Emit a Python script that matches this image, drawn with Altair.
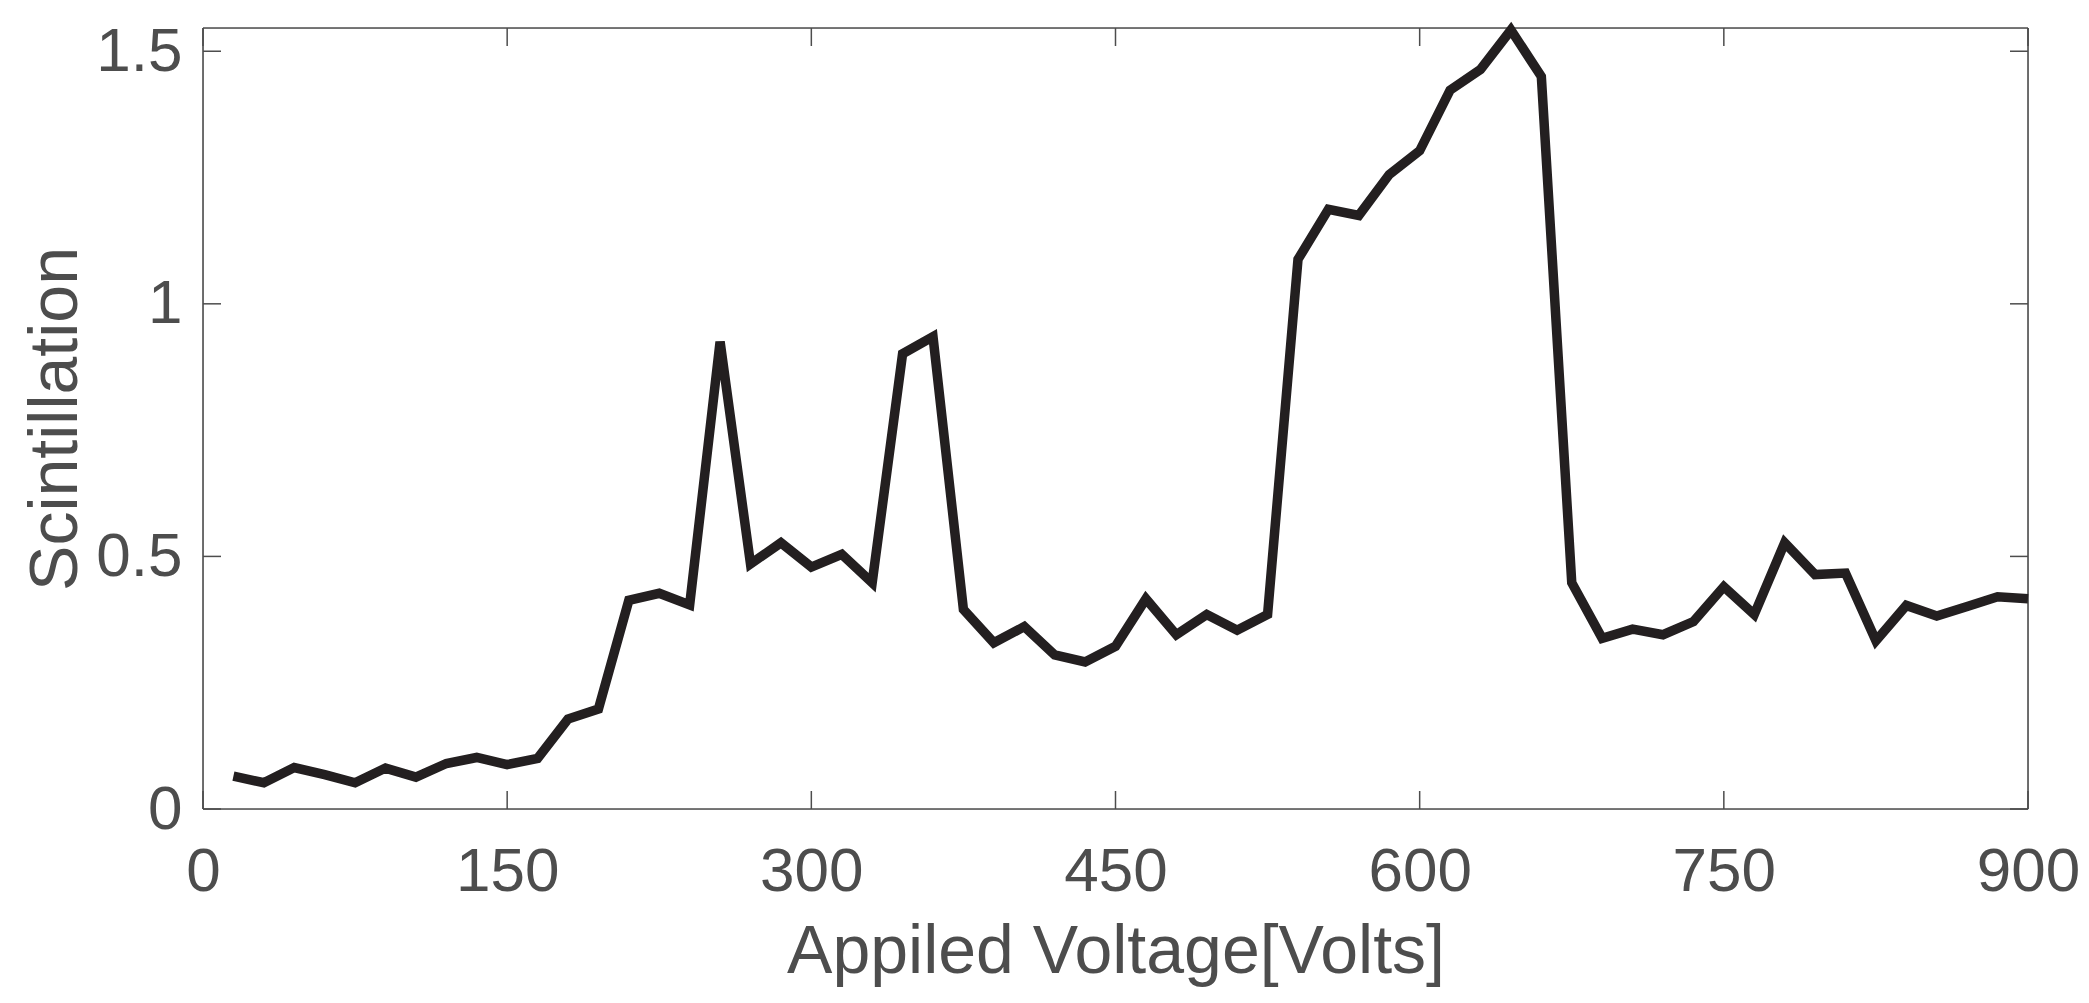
import altair as alt
import pandas as pd

voltage = list(range(15, 901, 15))
scint = [0.065, 0.052, 0.082, 0.068, 0.052, 0.081, 0.063, 0.090, 0.102, 0.088,
         0.100, 0.178, 0.198, 0.413, 0.427, 0.404, 0.925, 0.485, 0.527, 0.479,
         0.504, 0.448, 0.901, 0.935, 0.395, 0.329, 0.361, 0.305, 0.291, 0.322,
         0.416, 0.345, 0.385, 0.354, 0.385, 1.088, 1.187, 1.175, 1.256, 1.303,
         1.423, 1.464, 1.542, 1.450, 0.448, 0.338, 0.356, 0.345, 0.371, 0.440,
         0.385, 0.527, 0.464, 0.467, 0.333, 0.403, 0.382, 0.401, 0.420, 0.416]
x_ticks = [0, 150, 300, 450, 600, 750, 900]
y_ticks = [0, 0.5, 1, 1.5]
x_limits = [0, 900]
y_limits = [0, 1.546]

W, H = 1825, 781
TICK = 18
GRAY = "#4d4d4d"
FONT = "Liberation Sans"

df = pd.DataFrame({"V": voltage, "S": scint})
xt = pd.DataFrame({"V": x_ticks})
yt = pd.DataFrame({"S": y_ticks})
xl = pd.DataFrame({"V": x_limits})
yl_df = pd.DataFrame({"S": y_limits})

xscale = alt.Scale(domain=x_limits, nice=False, zero=False)
yscale = alt.Scale(domain=y_limits, nice=False, zero=False)
xaxis = alt.Axis(values=x_ticks, format="d", grid=False, domain=False, ticks=False, tickSize=0,
                 labelFont=FONT, labelFontSize=62, labelColor=GRAY, labelPadding=32,
                 labelFlush=False, titleFont=FONT, titleFontSize=68, titleFontWeight="normal",
                 titleColor=GRAY, titleBaseline="alphabetic", titleY=163)
yaxis = alt.Axis(values=y_ticks, format="~g", grid=False, domain=False, ticks=False, tickSize=0,
                 labelFont=FONT, labelFontSize=62, labelColor=GRAY, labelPadding=21,
                 labelFlush=False, titleFont=FONT, titleFontSize=68, titleFontWeight="normal",
                 titleColor=GRAY, titleBaseline="alphabetic", titleAngle=270, titleX=-127)

X = alt.X("V:Q", scale=xscale, axis=xaxis, title="Appiled Voltage[Volts]")
Y = alt.Y("S:Q", scale=yscale, axis=yaxis, title="Scintillation")

line = alt.Chart(df).mark_line(color="#231f20", strokeWidth=9.5).encode(x=X, y=Y)

# box frame
fx = alt.Chart(xl).mark_rule(color=GRAY, strokeWidth=1.6).encode(
    x=X, y=alt.value(0), y2=alt.value(H))
fy = alt.Chart(yl_df).mark_rule(color=GRAY, strokeWidth=1.6).encode(
    y=Y, x=alt.value(0), x2=alt.value(W))

# inward ticks
xb = alt.Chart(xt).mark_rule(color=GRAY, strokeWidth=1.5).encode(
    x=X, y=alt.value(H), y2=alt.value(H - TICK))
xtop = alt.Chart(xt).mark_rule(color=GRAY, strokeWidth=1.5).encode(
    x=X, y=alt.value(0), y2=alt.value(TICK))
yl = alt.Chart(yt).mark_rule(color=GRAY, strokeWidth=1.5).encode(
    y=Y, x=alt.value(0), x2=alt.value(TICK))
yr = alt.Chart(yt).mark_rule(color=GRAY, strokeWidth=1.5).encode(
    y=Y, x=alt.value(W), x2=alt.value(W - TICK))

chart = alt.layer(fx, fy, xb, xtop, yl, yr, line).properties(
    width=W, height=H,
    autosize=alt.AutoSizeParams(type="none"),
    padding={"left": 195, "top": 20, "right": 53, "bottom": 180},
).configure_view(stroke=GRAY, strokeWidth=1.6, strokeOpacity=1).configure(background="white")

chart.save("out.html", embed_options={"renderer": "svg", "actions": False})
